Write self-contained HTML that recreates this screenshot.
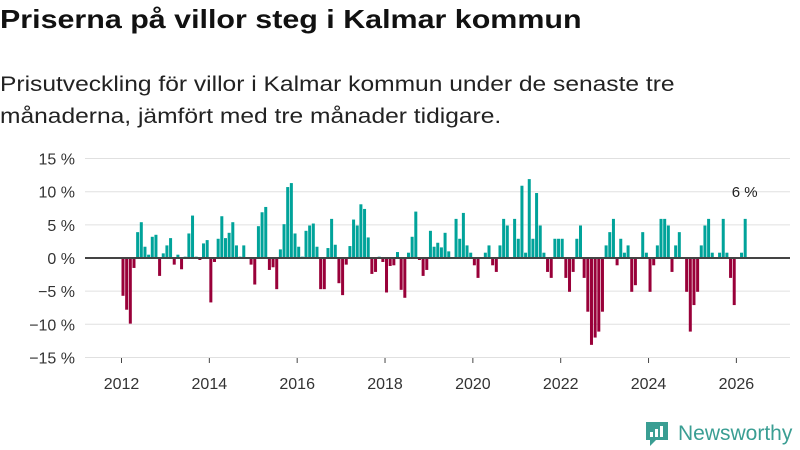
<!DOCTYPE html>
<html><head><meta charset="utf-8">
<style>
body{margin:0;background:#fff;font-family:"Liberation Sans","DejaVu Sans",sans-serif;}
#wrap{position:relative;width:800px;height:450px;overflow:hidden;}
h1{position:absolute;left:0;top:4px;margin:0;font-size:26px;font-weight:bold;color:#111;transform:scaleX(1.17);transform-origin:0 0;white-space:nowrap;}
#sub{position:absolute;left:0;top:69px;margin:0;font-size:21px;line-height:32px;color:#222;transform:scaleX(1.17);transform-origin:0 0;white-space:nowrap;}
</style></head><body>
<div id="wrap">
<h1>Priserna på villor steg i Kalmar kommun</h1>
<p id="sub">Prisutveckling för villor i Kalmar kommun under de senaste tre<br>månaderna, jämfört med tre månader tidigare.</p>
<svg id="chart" width="800" height="450" style="position:absolute;left:0;top:0"></svg>
<div style="position:absolute;left:644px;top:420px;display:flex;align-items:center;">
<svg width="26" height="28" viewBox="0 0 26 28"><path d="M2 2h22v18H12l-6 6v-6H2z" fill="#3a9e93"/><rect x="6" y="12" width="3" height="5" fill="#fff"/><rect x="11" y="9" width="3" height="8" fill="#fff"/><rect x="16" y="6" width="3" height="11" fill="#fff"/></svg>
<span style="font-size:21px;color:#3a9e93;margin-left:8px;">Newsworthy</span></div>
</div>
<script>
const yTicks=[15,10,5,0,-5,-10,-15];
const xTickYears=[2012,2014,2016,2018,2020,2022,2024,2026];
const startYear=2012;
const values=[-5.7,-7.8,-9.9,-1.5,3.9,5.4,1.7,0.5,3.2,3.5,-2.7,0.7,1.9,3.0,-1.0,0.5,-1.7,0.2,3.7,6.4,0.2,-0.3,2.2,2.7,
-6.7,-0.6,2.9,6.3,3.0,3.8,5.4,1.9,0.2,1.9,0,-1.0,
-4.0,4.8,6.9,7.7,-1.8,-1.4,-4.7,1.3,5.1,10.7,11.3,3.7,
1.7,0.2,4.1,4.9,5.2,1.7,-4.7,-4.7,1.5,5.9,2.0,-3.8,
-5.6,-1.0,1.8,5.8,4.9,8.1,7.4,3.1,-2.4,-2.1,0.2,-0.6,
-5.2,-1.2,-1.1,0.9,-4.8,-6.0,0.8,3.2,7.0,-0.3,-2.7,-1.8,
4.1,1.7,2.3,1.6,3.8,1.0,0,5.9,2.9,6.8,1.9,0.8,
-1.1,-3.0,0,0.8,1.9,-1.1,-2.1,1.9,5.9,4.9,0,5.9,
2.9,10.9,0.8,11.9,2.9,9.8,4.9,0.8,-2.1,-3.0,2.9,2.9,
2.9,-3.0,-5.1,-2.1,2.9,4.9,-3.0,-8.1,-13.1,-12.0,-11.1,-8.1,
1.9,3.9,5.9,-1.1,2.9,0.8,1.9,-5.1,-4.1,0,3.9,0.8,
-5.1,-1.1,1.9,5.9,5.9,4.9,-2.1,1.9,3.9,0,-5.1,-11.1,
-7.1,-5.1,1.9,4.9,5.9,0.8,0,0.8,5.9,0.8,-3.0,-7.1,
0,0.8,5.9];
const lastLabel="6 %";
const NS="http://www.w3.org/2000/svg";
const svg=document.getElementById('chart');
const y=v=>258-v*6.63;
const mw=3.66;
const x=i=>121.5+i*mw;
function mk(t,a){const e=document.createElementNS(NS,t);for(const k in a)e.setAttribute(k,a[k]);svg.appendChild(e);return e;}
yTicks.forEach(t=>{
 if(t!==0){const g=mk('line',{x1:85,x2:790,y1:y(t),y2:y(t),stroke:'#e0e0e0','stroke-width':1});
 
 }
 const l=mk('text',{x:75,y:y(t)+6,'text-anchor':'end','font-size':16,fill:'#333','font-family':'Liberation Sans, sans-serif'});
 l.textContent=(t<0?'−'+(-t):t)+' %';
 
 
});
xTickYears.forEach(yr=>{
 const xx=x((yr-startYear)*12);
 const tk=mk('line',{x1:xx,x2:xx,y1:358,y2:363,stroke:'#444','stroke-width':1});
 
 
 const l=mk('text',{x:xx,y:389,'text-anchor':'middle','font-size':16,fill:'#333','font-family':'Liberation Sans, sans-serif'});
 l.textContent=yr;
 
 
});
values.forEach((v,i)=>{
 const r=mk('rect',{x:x(i),width:3,y:Math.min(y(v),y(0)),height:Math.abs(y(v)-y(0)),fill:v>=0?'#00a39a':'#990039'});
 
 
});
const z=mk('line',{x1:85,x2:790,y1:258,y2:258,stroke:'#444','stroke-width':2});


const li=values.length-1;
const a=mk('text',{x:x(li)+1,y:y(values[li])-22,'text-anchor':'middle','font-size':15,fill:'#222','font-family':'Liberation Sans, sans-serif'});
a.textContent=lastLabel;


</script>
</body></html>
